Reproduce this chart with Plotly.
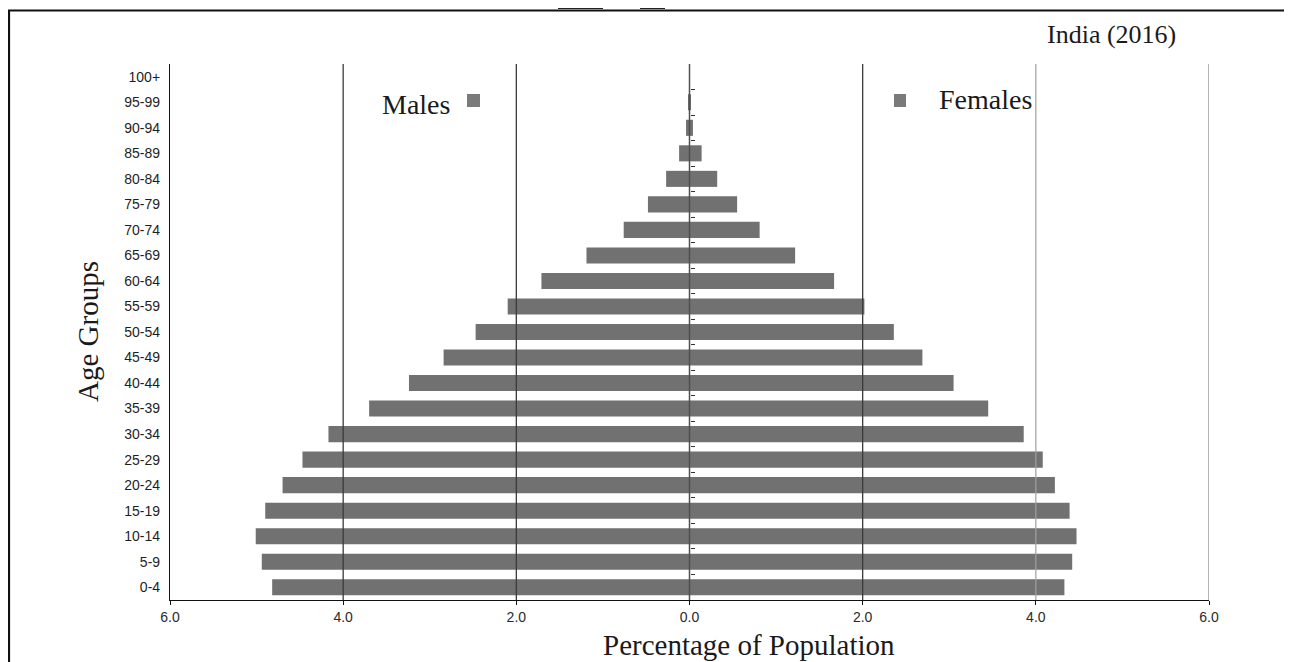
import plotly.graph_objects as go

# ---------------- data ----------------
AGE_GROUPS = ["0-4", "5-9", "10-14", "15-19", "20-24", "25-29", "30-34", "35-39",
              "40-44", "45-49", "50-54", "55-59", "60-64", "65-69", "70-74",
              "75-79", "80-84", "85-89", "90-94", "95-99", "100+"]
MALES = [4.82, 4.94, 5.01, 4.90, 4.70, 4.47, 4.17, 3.70, 3.24, 2.84, 2.47,
         2.10, 1.71, 1.19, 0.76, 0.48, 0.27, 0.12, 0.04, 0.01, 0.0]
FEMALES = [4.33, 4.42, 4.47, 4.39, 4.22, 4.08, 3.86, 3.45, 3.05, 2.69, 2.36,
           2.02, 1.67, 1.22, 0.81, 0.55, 0.32, 0.14, 0.04, 0.01, 0.0]
X_TICK_VALUES = [-6, -4, -2, 0, 2, 4, 6]
X_TICK_LABELS = ["6.0", "4.0", "2.0", "0.0", "2.0", "4.0", "6.0"]
GRID_DARK = [-4, -2, 2]
GRID_LIGHT = [4]
GRID_EDGE = [6]
TITLE = "India (2016)"
X_TITLE = "Percentage of Population"
Y_TITLE = "Age Groups"

# ---------------- style ----------------
PAGE_OFF = 8                      # default body margin of the html page
W, H = 1292 - PAGE_OFF, 662 - PAGE_OFF
PLOT_X0, PLOT_X1 = 170, 1209      # target pixel extent of the plot area
PLOT_Y0, PLOT_Y1 = 64, 600
PW, PH = PLOT_X1 - PLOT_X0, PLOT_Y1 - PLOT_Y0
L, T = PLOT_X0 - PAGE_OFF, PLOT_Y0 - PAGE_OFF
R, B = W - L - PW, H - T - PH
BAR_COLOR = "#717171"
SERIF = "Liberation Serif, Times New Roman, serif"
SANS = "Liberation Sans, Arial, sans-serif"


def px(x):
    return (x - PLOT_X0) / PW


def py(y):
    return (PLOT_Y1 - y) / PH


fig = go.Figure()
fig.add_trace(go.Bar(y=AGE_GROUPS, x=[-v for v in MALES], orientation="h",
                     marker=dict(color=BAR_COLOR, line=dict(width=0)),
                     name="Males", showlegend=False, hoverinfo="skip"))
fig.add_trace(go.Bar(y=AGE_GROUPS, x=FEMALES, orientation="h",
                     marker=dict(color=BAR_COLOR, line=dict(width=0)),
                     name="Females", showlegend=False, hoverinfo="skip"))
# helper trace so the zero-line tick axis renders
fig.add_trace(go.Scatter(x=[None], y=[None], yaxis="y2", showlegend=False,
                         hoverinfo="skip"))

n = len(AGE_GROUPS)
fig.update_layout(
    width=W, height=H, autosize=False,
    margin=dict(l=L, r=R, t=T, b=B, pad=0),
    paper_bgcolor="white", plot_bgcolor="white",
    barmode="overlay", bargap=0.37,
    xaxis=dict(range=[-6, 6], tickvals=X_TICK_VALUES, ticktext=X_TICK_LABELS,
               showgrid=False, zeroline=False, showline=True, linecolor="#111",
               linewidth=1, ticks="outside", ticklen=4, tickcolor="#111",
               tickfont=dict(family=SANS, size=14, color="#2a2a2a"),
               fixedrange=True),
    yaxis=dict(type="category", categoryorder="array", categoryarray=AGE_GROUPS,
               range=[-0.5, n - 0.5], showgrid=False, zeroline=False,
               showline=True, linecolor="#111", linewidth=1.2,
               ticks="outside", ticklen=6, tickcolor="rgba(0,0,0,0)",
               tickfont=dict(family=SANS, size=14, color="#1e1e1e"),
               fixedrange=True),
    yaxis2=dict(overlaying="y", anchor="free", position=0.5, side="right",
                range=[-0.5, n - 0.5], tickvals=[i + 0.5 for i in range(n - 1)],
                ticks="outside", ticklen=4, tickwidth=1.2, tickcolor="#333",
                showticklabels=False, showgrid=False, zeroline=False,
                showline=False, fixedrange=True),
)

shapes = []
for v in GRID_DARK:
    shapes.append(dict(type="line", xref="x", yref="paper", x0=v, x1=v, y0=0, y1=1,
                       line=dict(color="#3a3a3a", width=1.3), layer="above"))
for v in GRID_LIGHT:
    shapes.append(dict(type="line", xref="x", yref="paper", x0=v, x1=v, y0=0, y1=1,
                       line=dict(color="#a0a0a0", width=1.2), layer="above"))
for v in GRID_EDGE:
    shapes.append(dict(type="line", xref="x", yref="paper", x0=v, x1=v, y0=0, y1=1,
                       line=dict(color="#8a8a8a", width=1.3), layer="above"))
# zero line
shapes.append(dict(type="line", xref="x", yref="paper", x0=0, x1=0, y0=0, y1=1,
                   line=dict(color="#505050", width=1.5), layer="above"))
# outer frame
shapes.append(dict(type="rect", xref="paper", yref="paper",
                   x0=px(9), x1=px(1287), y0=py(10.5), y1=py(700),
                   line=dict(color="#111", width=2.2), fillcolor="rgba(0,0,0,0)",
                   layer="above"))
# scan artefacts on top edge
shapes.append(dict(type="line", xref="paper", yref="paper", x0=px(558), x1=px(603),
                   y0=py(8), y1=py(8), line=dict(color="#222", width=2)))
shapes.append(dict(type="line", xref="paper", yref="paper", x0=px(640), x1=px(665),
                   y0=py(8), y1=py(8), line=dict(color="#222", width=2)))
# legend squares
shapes.append(dict(type="rect", xref="paper", yref="paper", x0=px(467), x1=px(480),
                   y0=py(107), y1=py(94), fillcolor="#7a7a7a", line=dict(width=0)))
shapes.append(dict(type="rect", xref="paper", yref="paper", x0=px(894), x1=px(906),
                   y0=py(107), y1=py(94), fillcolor="#7a7a7a", line=dict(width=0)))
fig.update_layout(shapes=shapes)

annotations = [
    dict(text=TITLE, x=px(1111), y=py(35), xref="paper", yref="paper",
         showarrow=False, xanchor="center", yanchor="middle",
         font=dict(family=SERIF, size=26, color="#1a1a1a")),
    dict(text="Males", x=px(416), y=py(104), xref="paper", yref="paper",
         showarrow=False, xanchor="center", yanchor="middle",
         font=dict(family=SERIF, size=28, color="#1a1a1a")),
    dict(text="Females", x=px(985), y=py(100), xref="paper", yref="paper",
         showarrow=False, xanchor="center", yanchor="middle",
         font=dict(family=SERIF, size=28, color="#1a1a1a")),
    dict(text=X_TITLE, x=px(749), y=py(645), xref="paper", yref="paper",
         showarrow=False, xanchor="center", yanchor="middle",
         font=dict(family=SERIF, size=29, color="#1a1a1a")),
    dict(text=Y_TITLE, x=px(88), y=py(332), xref="paper", yref="paper",
         showarrow=False, xanchor="center", yanchor="middle", textangle=-90,
         font=dict(family=SERIF, size=29, color="#1a1a1a")),
]
fig.update_layout(annotations=annotations)

fig.write_html("out.html")
